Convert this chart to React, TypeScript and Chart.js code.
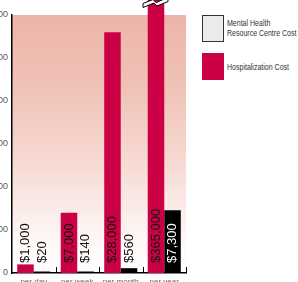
import React, { useEffect, useRef } from "react";
import { Chart, registerables } from "chart.js";

Chart.register(...registerables);

const categories = ["per day", "per week", "per month", "per year"];
const hospitalizationCost = [1000, 7000, 28000, 365000];
const mhrcCost = [20, 140, 560, 7300];
const yTicks = [0, 5000, 10000, 15000, 20000, 25000, 30000];

const RED = "#CC0044";
const SANS = "'Liberation Sans', Arial, sans-serif";

const fmt = (v: number) => "$" + v.toLocaleString("en-US");

const decorPlugin = {
  id: "decor",
  beforeDraw(chart: any) {
    const { ctx, chartArea: a } = chart;
    ctx.save();
    const g = ctx.createLinearGradient(0, a.top, 0, a.bottom);
    g.addColorStop(0, "#ECB5A9");
    g.addColorStop(0.3, "#F0C3B8");
    g.addColorStop(0.55, "#F6D8D0");
    g.addColorStop(0.75, "#FBEBE8");
    g.addColorStop(0.88, "#FEF8F7");
    g.addColorStop(1, "#FFFFFF");
    ctx.fillStyle = g;
    ctx.fillRect(a.left, a.top, a.right - a.left, a.bottom - a.top);
    ctx.restore();
  },
  afterDatasetsDraw(chart: any) {
    const { ctx, chartArea: a } = chart;
    ctx.save();
    const n = categories.length;
    const gw = (a.right - a.left) / n;
    ctx.strokeStyle = "#000";
    ctx.lineWidth = 1;
    for (let i = 1; i <= n; i++) {
      const x = Math.round(a.left + i * gw) + 0.5;
      ctx.beginPath();
      ctx.moveTo(x, a.bottom - 6);
      ctx.lineTo(x, a.bottom);
      ctx.stroke();
    }
    ctx.font = "13px " + SANS;
    ctx.textBaseline = "middle";
    ctx.textAlign = "left";
    chart.data.datasets.forEach((ds: any, di: number) => {
      const meta = chart.getDatasetMeta(di);
      meta.data.forEach((bar: any, i: number) => {
        const text = fmt(ds.data[i]);
        const w = ctx.measureText(text).width;
        const startY = a.bottom - 10;
        const covered = bar.y < startY - w;
        ctx.fillStyle = di === 1 && covered ? "#FFFFFF" : "#111111";
        ctx.save();
        ctx.translate(bar.x, startY);
        ctx.rotate(-Math.PI / 2);
        ctx.fillText(text, 0, 0);
        ctx.restore();
      });
    });
    const meta0 = chart.getDatasetMeta(0);
    const last = meta0.data[meta0.data.length - 1];
    if (last) {
      const cx = last.x;
      ctx.beginPath();
      ctx.moveTo(cx - 13, 3.5);
      ctx.lineTo(cx - 3, -0.5);
      ctx.lineTo(cx + 0, 2.5);
      ctx.lineTo(cx + 12, -2.5);
      ctx.lineTo(cx + 12, 1.5);
      ctx.lineTo(cx + 1, 6);
      ctx.lineTo(cx - 2, 3);
      ctx.lineTo(cx - 13, 7.5);
      ctx.closePath();
      ctx.fillStyle = "#FFFFFF";
      ctx.fill();
      ctx.strokeStyle = "#000";
      ctx.lineWidth = 1;
      ctx.stroke();
    }
    ctx.restore();
  },
};

export default function App() {
  const ref = useRef<HTMLCanvasElement>(null);
  useEffect(() => {
    if (!ref.current) return;
    const chart = new Chart(ref.current, {
      type: "bar",
      data: {
        labels: categories,
        datasets: [
          {
            label: "Hospitalization Cost",
            data: hospitalizationCost,
            backgroundColor: RED,
            borderWidth: 0,
            clip: false as any,
            categoryPercentage: 0.76,
            barPercentage: 1,
          },
          {
            label: "Mental Health Resource Centre Cost",
            data: mhrcCost,
            backgroundColor: "#000000",
            borderWidth: 0,
            minBarLength: 1.5,
            categoryPercentage: 0.76,
            barPercentage: 1,
          },
        ],
      },
      options: {
        responsive: false,
        animation: false,
        devicePixelRatio: 1,
        layout: { padding: { top: 15, right: 2, left: 0, bottom: 0 } },
        plugins: { legend: { display: false }, tooltip: { enabled: false } },
        scales: {
          x: {
            grid: { display: false, drawTicks: false },
            border: { display: true, color: "#000", width: 1.5 },
            ticks: {
              color: "#666",
              padding: 4,
              maxRotation: 0,
              minRotation: 0,
              autoSkip: false,
              font: { size: 8, family: SANS },
            },
            afterFit: (s: any) => {
              s.height = 19;
            },
          },
          y: {
            min: 0,
            max: 30000,
            afterBuildTicks: (s: any) => {
              s.ticks = yTicks.map((v) => ({ value: v }));
            },
            grid: { display: false, drawTicks: false },
            border: { display: true, color: "#000", width: 1.5 },
            ticks: {
              color: "#555",
              padding: 4,
              font: { size: 9, family: SANS },
              callback: (v: any) => Number(v).toLocaleString("en-US"),
            },
            afterFit: (s: any) => {
              s.width = 32;
            },
          },
        },
      },
      plugins: [decorPlugin],
    });
    return () => chart.destroy();
  }, []);

  const legendText: React.CSSProperties = {
    position: "absolute",
    fontFamily: SANS,
    fontSize: 9,
    lineHeight: "10px",
    color: "#333",
    whiteSpace: "nowrap",
    transform: "scaleX(0.78)",
    transformOrigin: "left top",
  };

  return (
    <div
      style={{
        position: "fixed",
        left: 0,
        top: 0,
        width: 298,
        height: 282,
        overflow: "hidden",
        background: "#fff",
      }}
    >
      <div style={{ position: "absolute", left: -20, top: 0, width: 208, height: 292 }}>
        <canvas ref={ref} width={208} height={292} style={{ display: "block" }} />
      </div>
      <div
        style={{
          position: "absolute",
          left: 202,
          top: 15,
          width: 20,
          height: 25,
          background: "#EBEBEB",
          border: "1px solid #333",
        }}
      />
      <div style={{ ...legendText, left: 227, top: 18 }}>
        Mental Health
        <br />
        Resource Centre Cost
      </div>
      <div
        style={{
          position: "absolute",
          left: 202,
          top: 53,
          width: 22,
          height: 27,
          background: RED,
        }}
      />
      <div style={{ ...legendText, left: 227, top: 62 }}>Hospitalization Cost</div>
    </div>
  );
}
